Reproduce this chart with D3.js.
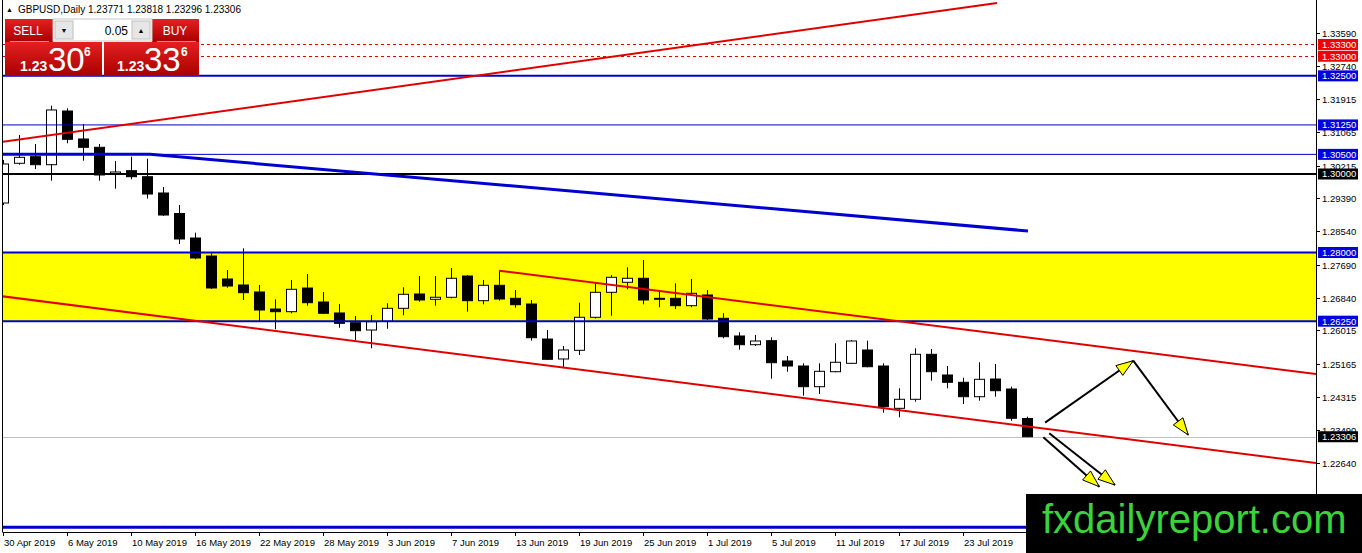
<!DOCTYPE html>
<html>
<head>
<meta charset="utf-8">
<script src="https://cdn.jsdelivr.net/npm/d3@7"></script>
<style>
html, body { margin: 0; padding: 0; background: #fff; overflow: hidden; }
svg { display: block; font-family: "Liberation Sans", Arial, sans-serif; }
</style>
</head>
<body>
<div id="chart"></div>
<script>
// GBPUSD daily bars, 30 Apr 2019 .. 29 Jul 2019
const dates = ["30 Apr","1 May","2 May","3 May","6 May","7 May","8 May","9 May","10 May","13 May",
  "14 May","15 May","16 May","17 May","20 May","21 May","22 May","23 May","24 May","27 May",
  "28 May","29 May","30 May","31 May","3 Jun","4 Jun","5 Jun","6 Jun","7 Jun","10 Jun",
  "11 Jun","12 Jun","13 Jun","14 Jun","17 Jun","18 Jun","19 Jun","20 Jun","21 Jun","24 Jun",
  "25 Jun","26 Jun","27 Jun","28 Jun","1 Jul","2 Jul","3 Jul","4 Jul","5 Jul","8 Jul",
  "9 Jul","10 Jul","11 Jul","12 Jul","15 Jul","16 Jul","17 Jul","18 Jul","19 Jul","22 Jul",
  "23 Jul","24 Jul","25 Jul","26 Jul","29 Jul"];

const opens = [1.29261,1.30273,1.30441,1.30237,1.31605,1.30892,1.30680,1.30000,1.30084,1.29931,
  1.29516,1.28994,1.28369,1.27911,1.27325,1.27172,1.26994,1.26560,1.26492,1.27095,
  1.26739,1.26459,1.26211,1.26025,1.26247,1.26578,1.26943,1.26808,1.26859,1.27401,
  1.26772,1.27164,1.26833,1.26688,1.25796,1.25287,1.25508,1.26349,1.26986,1.27241,
  1.27343,1.26833,1.26833,1.26645,1.26917,1.26323,1.25873,1.25651,1.25753,1.25236,
  1.25108,1.24581,1.24963,1.25177,1.25516,1.25108,1.24030,1.24260,1.25406,1.24879,
  1.24693,1.24326,1.24777,1.24522,1.23771];
const highs = [1.30357,1.30994,1.30764,1.31740,1.31674,1.31274,1.30764,1.30331,1.30441,1.30390,
  1.29669,1.29210,1.28504,1.27980,1.27554,1.28107,1.27172,1.26808,1.27299,1.27452,
  1.26994,1.26688,1.26382,1.26408,1.26706,1.27113,1.27401,1.27401,1.27605,1.27427,
  1.27299,1.27536,1.27045,1.26790,1.26025,1.25618,1.26721,1.27215,1.27427,1.27623,
  1.27809,1.27027,1.27215,1.27325,1.27045,1.26451,1.25967,1.25898,1.25839,1.25363,
  1.25177,1.25177,1.25687,1.25771,1.25753,1.25177,1.24540,1.25559,1.25541,1.25108,
  1.24810,1.25203,1.25159,1.24581,1.23818];
const lows = [1.29210,1.30237,1.30127,1.29829,1.30782,1.30339,1.29829,1.29625,1.29865,1.29376,
  1.28930,1.28217,1.27827,1.27070,1.27103,1.26790,1.26255,1.26043,1.26451,1.26645,
  1.26433,1.26084,1.25771,1.25559,1.26058,1.26400,1.26746,1.26645,1.26833,1.26492,
  1.26680,1.26772,1.26594,1.25753,1.25261,1.25050,1.25389,1.26318,1.26390,1.27062,
  1.26680,1.26604,1.26560,1.26604,1.26280,1.25814,1.25524,1.25618,1.24784,1.24963,
  1.24352,1.24395,1.24948,1.25159,1.25075,1.23918,1.23801,1.24199,1.24734,1.24540,
  1.24140,1.24224,1.24326,1.23715,1.23296];
const closes = [1.30255,1.30425,1.30237,1.31631,1.30884,1.30680,1.29975,1.30051,1.29931,1.29490,
  1.28955,1.28344,1.27860,1.27096,1.27146,1.26976,1.26535,1.26492,1.27062,1.26721,
  1.26451,1.26196,1.26008,1.26237,1.26578,1.26935,1.26790,1.26859,1.27343,1.26772,
  1.27164,1.26815,1.26670,1.25829,1.25279,1.25516,1.26349,1.26986,1.27368,1.27343,
  1.26790,1.26828,1.26645,1.26960,1.26306,1.25855,1.25651,1.25745,1.25192,1.25108,
  1.24581,1.24973,1.25203,1.25745,1.25090,1.24071,1.24260,1.25406,1.24963,1.24693,
  1.24326,1.24769,1.24479,1.23776,1.23306];

// price scale ticks as printed on the right
const priceTicks = [1.33590,1.32740,1.31915,1.31065,1.30215,1.29390,1.28540,1.27690,1.26840,
  1.26015,1.25165,1.24315,1.23490,1.22640,1.21790];
const dateTickIdx = [0,4,8,12,16,20,24,28,32,36,40,44,48,52,56,60];

// horizontal levels drawn on the chart
const redLevels = [1.33300, 1.33000];
const blueLevels = [1.32500, 1.31250, 1.30500, 1.28000, 1.26250, 1.21000];
const blackLevels = [1.30000];
const zone = [1.26250, 1.28000];
const bid = 1.23306;

// trendlines in (bar index, price)
const upTrend = [[-0.19, 1.30808], [62.13, 1.34357]];
const channelLow = [[-0.19, 1.26892], [82.06, 1.22637]];
const channelHigh = [[31, 1.27536], [82.06, 1.24904]];
const blueTrend = [[-0.19, 1.30500], [9.19, 1.30500], [64.06, 1.28548]];
const arrows = [
  [[65.13, 1.23664], [70.64, 1.25243]],
  [[70.64, 1.25243], [74.08, 1.23350]],
  [[65.39, 1.23394], [69.50, 1.22076]],
  [[65.02, 1.23292], [68.52, 1.22033]]
];

var W = 1362, H = 553;
var plot = {left: 3, right: 1316, top: 0, bottom: 532};

var x = d3.scaleLinear().domain([0, 64]).range([3, 1027]);
var y = d3.scaleLinear().domain([1.20879, 1.34433]).range([plot.bottom, plot.top]);

var svg = d3.select("#chart").append("svg")
  .attr("width", W).attr("height", H);

svg.append("defs").append("clipPath").attr("id", "plotclip")
  .append("rect")
    .attr("x", plot.left).attr("y", plot.top)
    .attr("width", plot.right - plot.left).attr("height", plot.bottom - plot.top);

var g = svg.append("g").attr("clip-path", "url(#plotclip)");

// yellow zone
g.append("rect")
  .attr("x", plot.left).attr("width", plot.right - plot.left)
  .attr("y", y(zone[1])).attr("height", y(zone[0]) - y(zone[1]))
  .attr("fill", "#ffff00");

// bid line
g.append("line")
  .attr("x1", plot.left).attr("x2", plot.right)
  .attr("y1", Math.round(y(bid)) + 0.5).attr("y2", Math.round(y(bid)) + 0.5)
  .attr("stroke", "#c0c0c0").attr("stroke-width", 1);

// candles
var idx = d3.range(opens.length);
var bw = 10;
var candles = g.selectAll(".candle").data(idx).join("g").attr("class", "candle");
candles.append("line")
  .attr("x1", i => Math.round(x(i)) + 0.5).attr("x2", i => Math.round(x(i)) + 0.5)
  .attr("y1", i => y(highs[i])).attr("y2", i => y(lows[i]))
  .attr("stroke", "#000").attr("stroke-width", 1);
candles.append("rect")
  .attr("x", i => Math.round(x(i)) - bw / 2 + 0.5)
  .attr("width", bw)
  .attr("y", i => y(Math.max(opens[i], closes[i])))
  .attr("height", i => Math.max(1, Math.abs(y(opens[i]) - y(closes[i]))))
  .attr("fill", i => closes[i] >= opens[i] ? "#fff" : "#000")
  .attr("stroke", "#000").attr("stroke-width", 1);

// horizontal levels
g.selectAll(".red-level").data(redLevels).join("line")
  .attr("x1", plot.left).attr("x2", plot.right)
  .attr("y1", d => Math.round(y(d)) + 0.5).attr("y2", d => Math.round(y(d)) + 0.5)
  .attr("stroke", "#e00000").attr("stroke-width", 1).attr("stroke-dasharray", "3,3");

g.selectAll(".blue-level").data(blueLevels).join("line")
  .attr("x1", plot.left).attr("x2", plot.right)
  .attr("y1", d => y(d)).attr("y2", d => y(d))
  .attr("stroke", "#0000c8")
  .attr("stroke-width", d => (d == 1.3125 || d == 1.305) ? 1 : (d == 1.21 ? 3 : 2));

g.selectAll(".black-level").data(blackLevels).join("line")
  .attr("x1", plot.left).attr("x2", plot.right)
  .attr("y1", d => y(d)).attr("y2", d => y(d))
  .attr("stroke", "#000").attr("stroke-width", 2);

// trendlines
var line = d3.line().x(d => x(d[0])).y(d => y(d[1]));
g.append("path").attr("d", line(blueTrend))
  .attr("fill", "none").attr("stroke", "#0000d0").attr("stroke-width", 3);
[upTrend, channelLow, channelHigh].forEach(t => {
  g.append("path").attr("d", line(t))
    .attr("fill", "none").attr("stroke", "#e00000").attr("stroke-width", 2);
});

// arrows
arrows.forEach(a => {
  var x1 = x(a[0][0]), y1 = y(a[0][1]), x2 = x(a[1][0]), y2 = y(a[1][1]);
  g.append("line").attr("x1", x1).attr("y1", y1).attr("x2", x2).attr("y2", y2)
    .attr("stroke", "#000").attr("stroke-width", 2);
  var ang = Math.atan2(y2 - y1, x2 - x1), L = 17, w = 6;
  var bx = x2 - L * Math.cos(ang), by = y2 - L * Math.sin(ang);
  var pts = [[x2, y2],
    [bx + w * Math.sin(ang), by - w * Math.cos(ang)],
    [bx - w * Math.sin(ang), by + w * Math.cos(ang)]];
  g.append("polygon").attr("points", pts.map(p => p.join(",")).join(" "))
    .attr("fill", "#ffff00").attr("stroke", "#000").attr("stroke-width", 1);
});

// frame
svg.append("line").attr("x1", 2.5).attr("x2", 2.5).attr("y1", 0).attr("y2", plot.bottom)
  .attr("stroke", "#000");
svg.append("line").attr("x1", plot.right + 0.5).attr("x2", plot.right + 0.5)
  .attr("y1", 0).attr("y2", plot.bottom + 0.5).attr("stroke", "#000");
svg.append("line").attr("x1", 2.5).attr("x2", plot.right + 0.5)
  .attr("y1", plot.bottom + 0.5).attr("y2", plot.bottom + 0.5).attr("stroke", "#000");

// price axis
var pa = svg.append("g").attr("font-size", "9.5px");
priceTicks.forEach(p => {
  var yy = Math.round(y(p)) + 0.5;
  pa.append("line").attr("x1", plot.right).attr("x2", plot.right + 4)
    .attr("y1", yy).attr("y2", yy).attr("stroke", "#000");
  pa.append("text").attr("x", 1322).attr("y", yy).attr("dy", "0.35em")
    .attr("fill", "#000").text(d3.format(".5f")(p));
});

// date axis
var da = svg.append("g").attr("font-size", "9.5px");
dateTickIdx.forEach(i => {
  var xx = Math.round(x(i)) + 0.5;
  da.append("line").attr("x1", xx).attr("x2", xx)
    .attr("y1", plot.bottom).attr("y2", plot.bottom + 4).attr("stroke", "#000");
  da.append("text").attr("x", xx + 0.5).attr("y", 546).attr("fill", "#000")
    .text(dates[i] + " 2019");
});

// level labels on the price axis (the 1.21 tag sits under the watermark, so it is left out)
function tag(p, fill) {
  var yy = y(p);
  pa.append("rect").attr("x", 1318).attr("y", yy - 5.5).attr("width", 40).attr("height", 11)
    .attr("fill", fill);
  pa.append("text").attr("x", 1322).attr("y", yy).attr("dy", "0.35em")
    .attr("fill", "#fff").text(d3.format(".5f")(p));
}
redLevels.forEach(p => tag(p, "#f00000"));
blueLevels.filter(p => p > 1.22).forEach(p => tag(p, "#0000e0"));
blackLevels.forEach(p => tag(p, "#000"));
tag(bid, "#000");

// header
svg.append("text").attr("x", 6).attr("y", 12).attr("font-size", "7px").text("\u25B2");
svg.append("text").attr("x", 18).attr("y", 13).attr("font-size", "10px").attr("fill", "#000")
  .text("GBPUSD,Daily  1.23771 1.23818 1.23296 1.23306");

// one-click trading panel
var defs = svg.select("defs");
var grad = defs.append("linearGradient").attr("id", "redgrad")
  .attr("x1", 0).attr("y1", 0).attr("x2", 0).attr("y2", 1);
grad.append("stop").attr("offset", "0%").attr("stop-color", "#e42020");
grad.append("stop").attr("offset", "100%").attr("stop-color", "#a80000");

var panel = svg.append("g");
panel.append("rect").attr("x", 5).attr("y", 19).attr("width", 48).attr("height", 23)
  .attr("fill", "url(#redgrad)");
panel.append("rect").attr("x", 152).attr("y", 19).attr("width", 47).attr("height", 23)
  .attr("fill", "url(#redgrad)");
panel.append("rect").attr("x", 53).attr("y", 19).attr("width", 99).attr("height", 22)
  .attr("fill", "#fff").attr("stroke", "#c8c8c8");
panel.append("rect").attr("x", 55).attr("y", 21).attr("width", 18).attr("height", 18)
  .attr("fill", "#e6e6e6").attr("stroke", "#c0c0c0");
panel.append("rect").attr("x", 132).attr("y", 21).attr("width", 18).attr("height", 18)
  .attr("fill", "#e6e6e6").attr("stroke", "#c0c0c0");
panel.append("text").attr("x", 64).attr("y", 33).attr("text-anchor", "middle")
  .attr("font-size", "7px").text("\u25BC");
panel.append("text").attr("x", 141).attr("y", 33).attr("text-anchor", "middle")
  .attr("font-size", "7px").text("\u25B2");
panel.append("text").attr("x", 128).attr("y", 35).attr("text-anchor", "end")
  .attr("font-size", "12px").attr("fill", "#000").text("0.05");
panel.append("text").attr("x", 28).attr("y", 35).attr("text-anchor", "middle")
  .attr("font-size", "12px").attr("fill", "#fff").text("SELL");
panel.append("text").attr("x", 175).attr("y", 35).attr("text-anchor", "middle")
  .attr("font-size", "12px").attr("fill", "#fff").text("BUY");
panel.append("line").attr("x1", 10).attr("x2", 49).attr("y1", 41.5).attr("y2", 41.5)
  .attr("stroke", "#f08080");
panel.append("line").attr("x1", 157).attr("x2", 196).attr("y1", 41.5).attr("y2", 41.5)
  .attr("stroke", "#f08080");

[{x: 5, w: 97, big: "30", lx: 20, bx: 48, sx: 84}, {x: 104, w: 95, big: "33", lx: 117, bx: 144, sx: 181}]
  .forEach(b => {
    panel.append("rect").attr("x", b.x).attr("y", 42).attr("width", b.w).attr("height", 34)
      .attr("fill", "url(#redgrad)");
    panel.append("text").attr("x", b.lx).attr("y", 71).attr("font-size", "14px")
      .attr("font-weight", "bold").attr("fill", "#fff").text("1.23");
    panel.append("text").attr("x", b.bx).attr("y", 71).attr("font-size", "33px")
      .attr("fill", "#fff").text(b.big);
    panel.append("text").attr("x", b.sx).attr("y", 56).attr("font-size", "12px")
      .attr("font-weight", "bold").attr("fill", "#fff").text("6");
  });

// watermark box
svg.append("rect").attr("x", 1026).attr("y", 494).attr("width", W - 1026).attr("height", H - 494)
  .attr("fill", "#000");
svg.append("text").attr("x", 1042).attr("y", 533).attr("font-size", "40px")
  .attr("fill", "#3cd23c").text("fxdailyreport.com");
</script>
</body>
</html>
